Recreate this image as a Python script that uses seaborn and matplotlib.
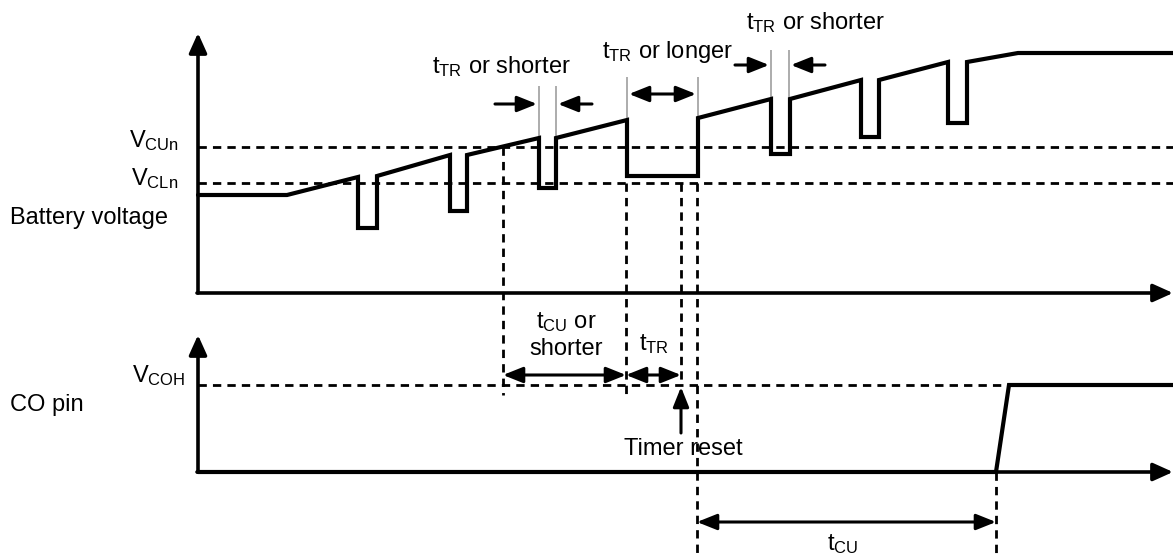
import matplotlib
matplotlib.use("Agg")
import matplotlib.pyplot as plt
import seaborn as sns

# waveform vertices (picture coordinates: x to the right, y downward)
bat_t = [198, 287, 358, 358, 377, 377, 450, 450, 467, 467, 539, 539, 556, 556,
         627, 627, 698, 698, 771, 771, 790, 790, 861, 861, 879, 879, 948, 948,
         967, 967, 1018, 1173]
bat_v = [195, 195, 177, 228, 228, 176, 155, 211, 211, 155, 138, 188, 188, 138,
         120, 176, 176, 118, 99, 154, 154, 99, 80, 137, 137, 80, 62, 123,
         123, 62, 53, 53]
co_t = [198, 996, 1009, 1173]
co_v = [472, 472, 385, 385]

# threshold levels
v_cun = 147
v_cln = 183
v_coh = 385
bat_axis_y = 293
co_axis_y = 472
axis_x = 198

# dashed time markers: (x, y_top, y_bottom)
dash_marks = [(503, 147, 395), (626, 183, 395), (681, 183, 385),
              (697, 183, 555), (996, 472, 555)]
# thin grey edges for the t_TR annotations: (x, y_top, y_bottom)
grey_marks = [(539, 86, 138), (556, 86, 138), (627, 77, 120), (698, 77, 118),
              (771, 50, 99), (789, 50, 99)]
# single arrows pointing at an edge: (x_from, x_to, y)
point_arrows = [(495, 537, 104), (592, 558, 104), (735, 769, 65), (825, 791, 65)]
# double-headed span arrows: (x0, x1, y)
span_arrows = [(629, 696, 94), (503, 626, 375), (626, 681, 375), (697, 996, 522)]

# labels: (text, x, y, ha)
labels = [
    (r"V$_{\mathrm{CUn}}$", 179, 147, "right"),
    (r"V$_{\mathrm{CLn}}$", 178, 185, "right"),
    ("Battery voltage", 10, 224, "left"),
    (r"V$_{\mathrm{COH}}$", 185, 382, "right"),
    ("CO pin", 10, 411, "left"),
    (r"t$_{\mathrm{TR}}$ or shorter", 501, 73, "center"),
    (r"t$_{\mathrm{TR}}$ or longer", 667, 58, "center"),
    (r"t$_{\mathrm{TR}}$ or shorter", 815, 29, "center"),
    (r"t$_{\mathrm{CU}}$ or", 566, 328, "center"),
    ("shorter", 566, 355, "center"),
    (r"t$_{\mathrm{TR}}$", 654, 350, "center"),
    ("Timer reset", 683, 455, "center"),
    (r"t$_{\mathrm{CU}}$", 843, 550, "center"),
]

sns.set_style("white")
plt.rcParams["font.family"] = ["Liberation Sans", "DejaVu Sans"]
plt.rcParams["mathtext.fontset"] = "custom"
plt.rcParams["mathtext.rm"] = "Liberation Sans"
plt.rcParams["mathtext.default"] = "regular"

fig = plt.figure(figsize=(11.73, 5.55), dpi=100)
ax = fig.add_axes([0, 0, 1, 1])
ax.set_xlim(0, 1173)
ax.set_ylim(555, 0)
ax.axis("off")

dash = (0, (3.0, 2.2))
dash_lw = 2.0

# threshold lines
ax.hlines([v_cun, v_cln], axis_x, 1173, colors="black", linestyles=[dash], lw=dash_lw, zorder=2)
ax.hlines([v_coh], axis_x, 1173, colors="black", linestyles=[dash], lw=dash_lw, zorder=2)
for x, y0, y1 in dash_marks:
    ax.vlines(x, y0, y1, colors="black", linestyles=[dash], lw=dash_lw, zorder=2)
for x, y0, y1 in grey_marks:
    ax.vlines(x, y0, y1, colors="#a6a6a6", lw=1.3, zorder=2)

# axes with arrows
axis_arrow = dict(arrowstyle="-|>,head_length=0.6,head_width=0.27", mutation_scale=20,
                  color="black", lw=2.6, shrinkA=0, shrinkB=0)
ax.annotate("", xy=(axis_x, 33), xytext=(axis_x, bat_axis_y), arrowprops=axis_arrow, zorder=4)
ax.annotate("", xy=(1173, bat_axis_y), xytext=(axis_x - 1, bat_axis_y), arrowprops=axis_arrow, zorder=4)
ax.annotate("", xy=(axis_x, 335), xytext=(axis_x, co_axis_y), arrowprops=axis_arrow, zorder=4)
ax.annotate("", xy=(1173, co_axis_y), xytext=(axis_x - 1, co_axis_y), arrowprops=axis_arrow, zorder=4)

# waveforms
sns.lineplot(x=bat_t, y=bat_v, sort=False, estimator=None, color="black", lw=3.0,
             solid_joinstyle="miter", ax=ax, zorder=5)
sns.lineplot(x=co_t, y=co_v, sort=False, estimator=None, color="black", lw=3.0,
             solid_joinstyle="miter", ax=ax, zorder=5)

# annotation arrows
one_way = dict(arrowstyle="-|>,head_length=0.6,head_width=0.24", mutation_scale=20,
               color="black", lw=2.2, shrinkA=0, shrinkB=0)
two_way = dict(arrowstyle="<|-|>,head_length=0.6,head_width=0.24", mutation_scale=20,
               color="black", lw=2.2, shrinkA=0, shrinkB=0)
for x0, x1, y in point_arrows:
    ax.annotate("", xy=(x1, y), xytext=(x0, y), arrowprops=one_way, zorder=4)
for x0, x1, y in span_arrows:
    ax.annotate("", xy=(x1, y), xytext=(x0, y), arrowprops=two_way, zorder=4)
ax.annotate("", xy=(681, 387), xytext=(681, 433), arrowprops=one_way, zorder=4)

for text, x, y, ha in labels:
    ax.text(x, y, text, ha=ha, va="baseline", fontsize=17, color="black", zorder=6)

fig.savefig("out.png", dpi=100)
